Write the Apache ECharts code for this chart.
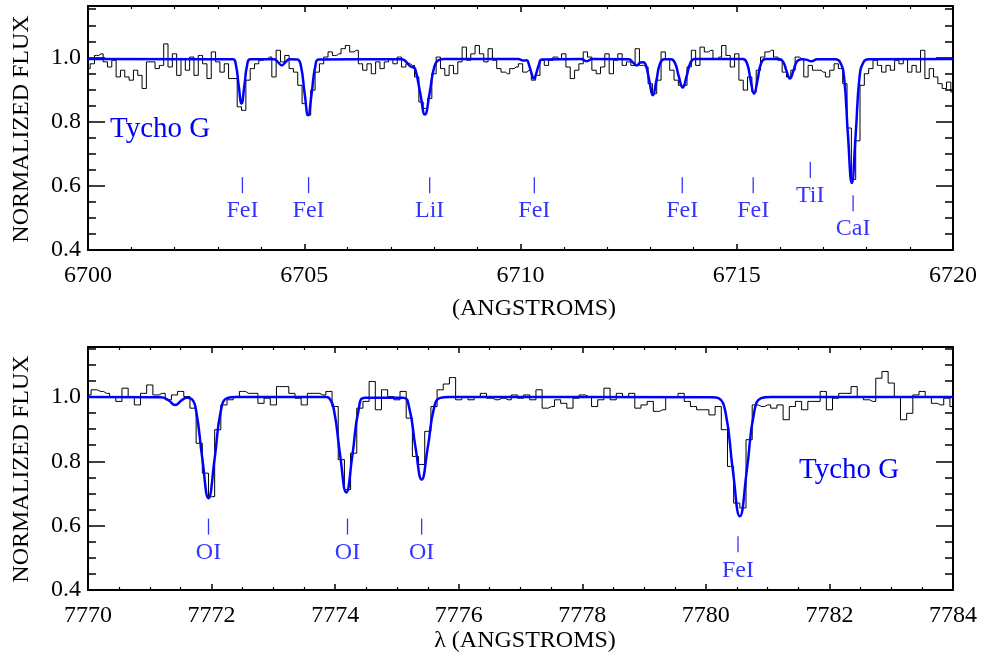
<!DOCTYPE html>
<html>
<head>
<meta charset="utf-8">
<script src="https://cdn.jsdelivr.net/npm/echarts@6/dist/echarts.min.js"></script>
<style>
  html, body { margin: 0; padding: 0; background: #fff; }
  #chart { width: 982px; height: 660px; }
</style>
</head>
<body>
<div id="chart"></div>
<script>
// ---- data ----
// observed spectrum, Li region: 6700.0 .. 6720.0, one value per 0.1 A
var obsTopStart = 6700.0, obsTopStep = 0.1;
var obsTopFlux = [
  0.965, 0.980, 1.006, 1.011, 0.986, 0.970, 0.991, 0.939, 0.960, 0.939,
  0.929, 0.960, 0.944, 0.903, 0.986, 0.986, 0.965, 0.975, 1.042, 0.970,
  1.011, 0.944, 0.996, 0.960, 1.001, 0.944, 1.006, 0.980, 0.934, 1.017,
  0.986, 0.954, 0.980, 0.934, 0.934, 0.846, 0.835, 0.929, 0.965, 0.980,
  0.991, 0.996, 1.001, 0.939, 1.022, 0.986, 1.006, 0.965, 0.954, 0.913,
  0.856, 0.820, 0.898, 0.954, 0.980, 1.001, 1.017, 1.006, 1.011, 1.027,
  1.037, 1.017, 1.022, 0.980, 0.960, 0.980, 0.949, 0.986, 0.965, 0.986,
  0.996, 0.980, 1.001, 0.970, 0.980, 0.975, 0.939, 0.861, 0.841, 0.872,
  0.949, 1.001, 0.965, 0.944, 0.975, 0.949, 0.986, 1.032, 0.991, 1.011,
  1.037, 1.011, 0.986, 1.027, 0.991, 0.965, 0.954, 0.949, 0.965, 0.970,
  0.980, 0.954, 0.960, 0.929, 0.944, 0.991, 0.975, 0.991, 1.001, 0.996,
  1.011, 0.970, 0.934, 0.960, 0.980, 1.017, 1.001, 0.960, 0.949, 0.970,
  1.011, 0.949, 0.991, 1.011, 0.975, 0.986, 0.975, 1.027, 0.975, 0.970,
  0.918, 0.887, 0.929, 1.017, 0.996, 0.960, 0.929, 0.913, 0.913, 0.970,
  1.022, 0.975, 1.032, 1.017, 1.022, 0.996, 1.001, 1.037, 1.006, 0.970,
  1.011, 0.929, 0.898, 0.939, 0.892, 0.960, 1.001, 1.017, 1.022, 1.001,
  0.991, 0.954, 0.939, 0.960, 1.001, 0.996, 0.939, 0.975, 0.960, 0.960,
  0.954, 0.939, 0.960, 0.980, 0.965, 0.918, 0.780, 0.620, 0.740, 0.913,
  0.949, 0.965, 0.991, 0.975, 0.954, 0.975, 0.960, 0.991, 0.980, 0.996,
  0.954, 0.975, 0.954, 1.022, 0.934, 0.965, 0.939, 0.918, 0.903, 0.923,
  0.892
];

// model spectrum, Li region: [wavelength, flux]
var modelTop = [
  [6700.0, 0.995], [6703.35, 0.994], [6703.42, 0.976], [6703.485, 0.911], [6703.55, 0.856],
  [6703.615, 0.911], [6703.68, 0.976], [6703.75, 0.994], [6704.30, 0.994], [6704.40, 0.984],
  [6704.48, 0.975], [6704.56, 0.984], [6704.66, 0.994], [6704.84, 0.993], [6704.926, 0.971],
  [6705.008, 0.889], [6705.09, 0.820], [6705.172, 0.889], [6705.254, 0.971], [6705.34, 0.993],
  [6707.25, 0.994], [6707.37, 0.984], [6707.45, 0.972], [6707.52, 0.969], [6707.57, 0.962],
  [6707.68, 0.890], [6707.79, 0.822], [6707.90, 0.890], [6708.01, 0.972], [6708.12, 0.992],
  [6708.25, 0.995], [6709.95, 0.995], [6710.06, 0.990], [6710.14, 0.991], [6710.20, 0.975],
  [6710.255, 0.950], [6710.31, 0.934], [6710.365, 0.950], [6710.42, 0.975], [6710.50, 0.993],
  [6711.40, 0.995], [6711.53, 0.988], [6711.66, 0.995], [6712.50, 0.994], [6712.61, 0.983],
  [6712.69, 0.975], [6712.77, 0.984], [6712.84, 0.985], [6712.90, 0.975], [6712.98, 0.926],
  [6713.06, 0.882], [6713.14, 0.926], [6713.22, 0.978], [6713.32, 0.994], [6713.48, 0.994],
  [6713.57, 0.983], [6713.66, 0.941], [6713.75, 0.906], [6713.84, 0.941], [6713.93, 0.983],
  [6714.03, 0.995], [6715.14, 0.995], [6715.24, 0.980], [6715.32, 0.929], [6715.40, 0.887],
  [6715.48, 0.929], [6715.56, 0.980], [6715.66, 0.995], [6715.98, 0.995], [6716.07, 0.987],
  [6716.15, 0.958], [6716.23, 0.934], [6716.31, 0.958], [6716.39, 0.987], [6716.50, 0.994],
  [6716.60, 0.993], [6716.73, 0.988], [6716.86, 0.994], [6717.28, 0.994], [6717.39, 0.985],
  [6717.48, 0.940], [6717.57, 0.760], [6717.66, 0.609], [6717.75, 0.760], [6717.84, 0.940],
  [6717.93, 0.985], [6718.04, 0.994], [6720.0, 0.995]
];

// observed spectrum, O triplet region: 7770.0 .. 7784.0, one value per 0.1 A
var obsBotStart = 7770.0, obsBotStep = 0.1;
var obsBotFlux = [
  1.006, 1.022, 1.017, 1.011, 1.001, 0.986, 1.027, 1.001, 0.975, 1.011,
  1.037, 1.006, 1.011, 0.991, 1.006, 1.017, 1.001, 0.965, 0.856, 0.763,
  0.690, 0.898, 0.975, 0.991, 1.001, 1.017, 1.011, 1.011, 0.980, 0.996,
  0.975, 1.032, 1.032, 1.011, 0.996, 0.975, 1.011, 1.011, 1.006, 1.017,
  0.970, 0.805, 0.712, 0.825, 0.965, 0.986, 1.048, 0.960, 1.022, 1.001,
  0.991, 1.017, 0.934, 0.815, 0.790, 0.893, 0.970, 1.022, 1.040, 1.060,
  0.991, 1.001, 0.991, 1.001, 1.011, 0.996, 0.991, 0.996, 0.991, 1.006,
  0.996, 1.006, 0.991, 1.022, 0.965, 0.970, 0.991, 0.980, 0.965, 0.996,
  1.006, 1.001, 0.970, 0.991, 1.027, 0.991, 1.011, 1.001, 1.011, 0.965,
  0.975, 0.986, 0.955, 0.960, 1.001, 1.001, 1.011, 0.986, 0.970, 0.960,
  0.960, 0.944, 0.970, 0.898, 0.784, 0.670, 0.655, 0.867, 0.975, 0.970,
  0.975, 0.965, 0.975, 0.929, 0.970, 0.986, 0.960, 0.986, 0.986, 1.017,
  0.960, 0.996, 1.011, 1.011, 1.032, 1.001, 0.991, 0.986, 1.058, 1.079,
  1.043, 1.001, 0.929, 0.949, 1.006, 1.017, 1.001, 0.980, 0.975, 0.996,
  0.970
];

// model spectrum, O triplet region: [wavelength, flux]
var modelBot = [
  [7770.0, 1.000], [7771.18, 0.999], [7771.30, 0.990], [7771.41, 0.975], [7771.52, 0.990],
  [7771.60, 0.997], [7771.68, 0.993], [7771.75, 0.957], [7771.85, 0.809], [7771.95, 0.685],
  [7772.05, 0.809], [7772.15, 0.957], [7772.25, 0.996], [7772.40, 1.000], [7773.85, 1.000],
  [7773.90, 0.997], [7773.98, 0.960], [7774.08, 0.820], [7774.18, 0.703], [7774.28, 0.820],
  [7774.38, 0.960], [7774.48, 0.997], [7775.10, 0.997], [7775.20, 0.965], [7775.30, 0.844],
  [7775.40, 0.743], [7775.50, 0.844], [7775.60, 0.965], [7775.70, 0.997], [7775.85, 1.000],
  [7780.10, 0.999], [7780.205, 0.996], [7780.32, 0.950], [7780.435, 0.775], [7780.55, 0.629],
  [7780.665, 0.775], [7780.78, 0.950], [7780.895, 0.996], [7781.05, 1.000], [7784.0, 1.000]
];

// line identifications: name, wavelength, flux level of the marker
var idTopNames = ['FeI', 'FeI', 'LiI', 'FeI', 'FeI', 'FeI', 'TiI', 'CaI'];
var idTopWaves = [6703.57, 6705.10, 6707.90, 6710.32, 6713.74, 6715.38, 6716.70, 6717.69];
var idTopLevel = [0.602, 0.602, 0.602, 0.602, 0.602, 0.602, 0.649, 0.546];

var idBotNames = ['OI', 'OI', 'OI', 'FeI'];
var idBotWaves = [7771.95, 7774.20, 7775.40, 7780.52];
var idBotLevel = [0.597, 0.597, 0.597, 0.542];

var yTickLabels = ['0.4', '0.6', '0.8', '1.0'];

// ---- build ----
var FONT = '"Liberation Serif", "Times New Roman", serif';
var BLUE = '#0000ff';

function steps(start, step, flux) {
  return flux.map(function (f, i) { return [+(start + i * step).toFixed(2), f]; });
}
function ids(names, waves, level) {
  return names.map(function (n, i) { return { name: n, value: [waves[i], level[i]] }; });
}

var myChart = echarts.init(document.getElementById('chart'), null, { renderer: 'canvas' });

function xAx(grid, pos, min, max, interval, split, labels) {
  return {
    type: 'value', gridIndex: grid, position: pos, min: min, max: max, interval: interval,
    axisLine: { show: true, onZero: false, lineStyle: { color: '#000', width: 2 } },
    axisTick: { show: true, inside: true, length: 6, lineStyle: { color: '#000', width: 1.5 } },
    minorTick: { show: true, splitNumber: split, length: 3, lineStyle: { color: '#000', width: 1.2 } },
    axisLabel: {
      show: labels, margin: 14, color: '#000', fontSize: 24, fontFamily: FONT,
      formatter: function (v) { return String(v); }
    },
    splitLine: { show: false }
  };
}
function yAx(grid, pos, max, interval, len, labels, line) {
  return {
    type: 'value', gridIndex: grid, position: pos, min: 0.4, max: max, interval: interval,
    axisLine: { show: line, onZero: false, lineStyle: { color: '#000', width: 2 } },
    axisTick: { show: true, inside: true, length: len, lineStyle: { color: '#000', width: 1.5 } },
    axisLabel: {
      show: labels, margin: 7, color: '#000', fontSize: 24, fontFamily: FONT,
      showMaxLabel: false,
      formatter: function (v) {
        var s = v.toFixed(1);
        return yTickLabels.indexOf(s) >= 0 && Math.abs(v - parseFloat(s)) < 1e-6 ? s : '';
      }
    },
    splitLine: { show: false }
  };
}

function idSeries(xi, yi, data) {
  return {
    type: 'scatter', xAxisIndex: xi, yAxisIndex: yi, data: data,
    symbol: 'rect', symbolSize: [1.3, 16], silent: true,
    itemStyle: { color: BLUE },
    label: {
      show: true, position: 'bottom', distance: 6, formatter: '{b}',
      color: BLUE, fontSize: 24, fontFamily: FONT
    },
    z: 5
  };
}

function txt(x, y, s, size, color, align, rot) {
  return {
    type: 'text', x: x, y: y, rotation: rot || 0, silent: true,
    style: {
      text: s, fill: color, font: size + 'px ' + FONT,
      align: align, verticalAlign: 'middle',
      textAlign: align, textVerticalAlign: 'middle'
    }
  };
}

option = {
  animation: false,
  backgroundColor: '#fff',
  grid: [
    { left: 88, top: 6, width: 865, height: 244 },
    { left: 88, top: 347, width: 865, height: 243 }
  ],
  xAxis: [
    xAx(0, 'bottom', 6700, 6720, 5, 5, true),
    xAx(0, 'top', 6700, 6720, 5, 5, false),
    xAx(1, 'bottom', 7770, 7784, 2, 4, true),
    xAx(1, 'top', 7770, 7784, 2, 4, false)
  ],
  yAxis: [
    yAx(0, 'left', 1.16, 0.2, 17, true, true),
    yAx(0, 'left', 1.16, 0.05, 8, false, false),
    yAx(0, 'right', 1.16, 0.2, 17, false, true),
    yAx(0, 'right', 1.16, 0.05, 8, false, false),
    yAx(1, 'left', 1.155, 0.2, 17, true, true),
    yAx(1, 'left', 1.155, 0.05, 8, false, false),
    yAx(1, 'right', 1.155, 0.2, 17, false, true),
    yAx(1, 'right', 1.155, 0.05, 8, false, false)
  ],
  series: [
    {
      type: 'line', xAxisIndex: 0, yAxisIndex: 0, step: 'middle', showSymbol: false,
      data: steps(obsTopStart, obsTopStep, obsTopFlux),
      lineStyle: { color: '#000', width: 1 }, z: 2
    },
    {
      type: 'line', xAxisIndex: 0, yAxisIndex: 0, smooth: 0.5, showSymbol: false,
      data: modelTop, lineStyle: { color: BLUE, width: 2.5 }, z: 3
    },
    idSeries(0, 0, ids(idTopNames, idTopWaves, idTopLevel)),
    {
      type: 'line', xAxisIndex: 2, yAxisIndex: 4, step: 'middle', showSymbol: false,
      data: steps(obsBotStart, obsBotStep, obsBotFlux),
      lineStyle: { color: '#000', width: 1 }, z: 2
    },
    {
      type: 'line', xAxisIndex: 2, yAxisIndex: 4, smooth: 0.5, showSymbol: false,
      data: modelBot, lineStyle: { color: BLUE, width: 2.5 }, z: 3
    },
    idSeries(2, 4, ids(idBotNames, idBotWaves, idBotLevel))
  ],
  graphic: [
    txt(22, 129, 'NORMALIZED FLUX', 24, '#000', 'center', Math.PI / 2),
    txt(22, 469, 'NORMALIZED FLUX', 24, '#000', 'center', Math.PI / 2),
    txt(534, 309, '(ANGSTROMS)', 24, '#000', 'center'),
    txt(525, 641, 'λ (ANGSTROMS)', 24, '#000', 'center'),
    txt(110, 129, 'Tycho G', 29, BLUE, 'left'),
    txt(799, 470, 'Tycho G', 29, BLUE, 'left')
  ]
};

myChart.setOption(option);
</script>
</body>
</html>
